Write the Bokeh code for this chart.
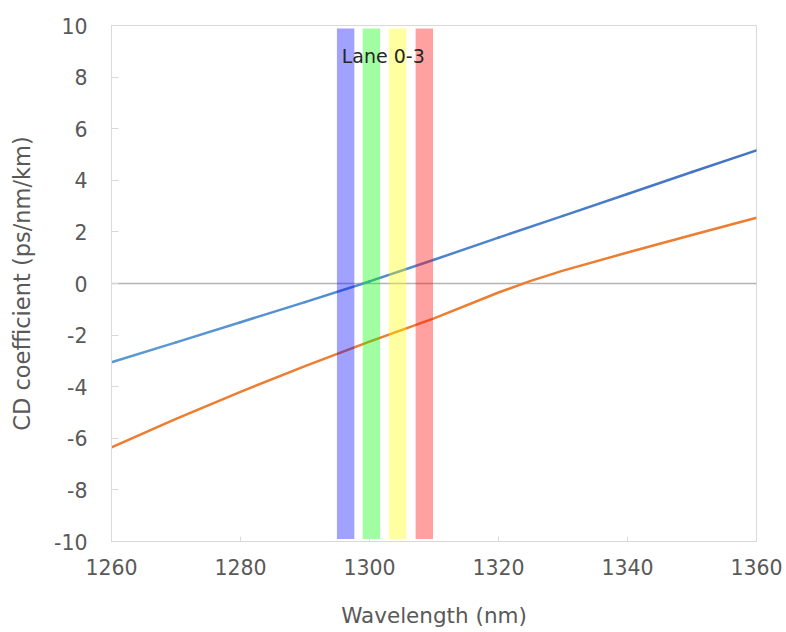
from bokeh.plotting import figure
from bokeh.models import Span, FixedTicker, Label, ColumnDataSource, Range1d
from bokeh.embed import file_html
from bokeh.resources import INLINE

# ---- data ----
wl_blue = [1260, 1270, 1280, 1290, 1300, 1310, 1320, 1330, 1340, 1350, 1360]
cd_blue = [-3.05, -2.28, -1.50, -0.72, 0.08, 0.92, 1.78, 2.62, 3.47, 4.32, 5.16]

wl_orange = [1260, 1270, 1280, 1290, 1300, 1310, 1320, 1325, 1330, 1340, 1350, 1360]
cd_orange = [-6.35, -5.25, -4.20, -3.20, -2.25, -1.35, -0.35, 0.10, 0.50, 1.20, 1.88, 2.55]

lane_names = ["Lane 0", "Lane 1", "Lane 2", "Lane 3"]
lane_center = [1296.3, 1300.3, 1304.35, 1308.5]
lane_half_width = 1.35
lane_top = 9.88
lane_bottom = -9.9
lane_colors = ["#0000ff", "#00ff00", "#ffff00", "#ff0000"]

x_ticks = [1260, 1280, 1300, 1320, 1340, 1360]
y_ticks = [-10, -8, -6, -4, -2, 0, 2, 4, 6, 8, 10]

FONT = "DejaVu Sans"
TXT = "#595959"
GRID = "#d9d9d9"

p = figure(width=786, height=632, output_backend="svg", toolbar_location=None,
           x_range=Range1d(1260, 1360), y_range=Range1d(-10, 10),
           min_border_left=111, min_border_right=30, min_border_top=25, min_border_bottom=91)
p.xgrid.grid_line_color = None
p.ygrid.grid_line_color = None
p.outline_line_color = GRID
p.outline_line_width = 1
p.background_fill_color = "white"
p.border_fill_color = "white"

# zero line
p.add_layout(Span(location=0, dimension="width", line_color="#b4b4b4", line_width=1.3, level="underlay"))

# blue curve with gradient colour (light blue -> darker blue)
def lerp_color(c0, c1, t):
    a = [int(c0[i:i + 2], 16) for i in (1, 3, 5)]
    b = [int(c1[i:i + 2], 16) for i in (1, 3, 5)]
    return "#%02x%02x%02x" % tuple(round(a[k] + (b[k] - a[k]) * t) for k in range(3))

x0 = wl_blue[:-1]
x1 = wl_blue[1:]
y0 = cd_blue[:-1]
y1 = cd_blue[1:]
span_x = wl_blue[-1] - wl_blue[0]
cols = [lerp_color("#5b9bd5", "#4472c4", ((a + b) / 2 - wl_blue[0]) / span_x) for a, b in zip(x0, x1)]
p.segment(x0=x0, y0=y0, x1=x1, y1=y1, line_color=cols, line_width=2.5, line_cap="round")

p.line(wl_orange, cd_orange, line_color="#ed7d31", line_width=2.5, line_join="round")

# lane bands
lane_src = ColumnDataSource(dict(
    left=[c - lane_half_width for c in lane_center],
    right=[c + lane_half_width for c in lane_center],
    top=[lane_top] * len(lane_center),
    bottom=[lane_bottom] * len(lane_center),
    color=lane_colors,
    name=lane_names,
))
p.quad(left="left", right="right", top="top", bottom="bottom", source=lane_src,
       fill_color="color", fill_alpha=0.37, line_color=None)

p.add_layout(Label(x=1295.7, y=8.82, text="Lane 0-3", text_font=FONT, text_font_size="19px",
                   text_color="#262626", text_align="left", text_baseline="alphabetic"))

# axes
for ax in (p.xaxis[0], p.yaxis[0]):
    ax.axis_line_color = GRID
    ax.major_tick_line_color = GRID
    ax.major_tick_out = 0
    ax.minor_tick_line_color = None
    ax.major_label_text_font = FONT
    ax.major_label_text_font_size = "20.5px"
    ax.major_label_text_color = TXT
    ax.axis_label_text_font = FONT
    ax.axis_label_text_color = TXT
    ax.axis_label_text_font_style = "normal"

p.xaxis.ticker = FixedTicker(ticks=x_ticks)
p.yaxis.ticker = FixedTicker(ticks=y_ticks)
p.yaxis.major_label_overrides = {v: str(v) for v in y_ticks}
p.xaxis.major_label_overrides = {v: str(v) for v in x_ticks}
p.xaxis.major_tick_in = 5
p.yaxis.major_tick_in = 7
p.xaxis.axis_label = "Wavelength (nm)"
p.yaxis.axis_label = "CD coefficient (ps/nm/km)"
p.xaxis.axis_label_text_font_size = "21.5px"
p.yaxis.axis_label_text_font_size = "22.5px"
p.xaxis.major_label_standoff = 17
p.xaxis.axis_label_standoff = 25
p.yaxis.major_label_standoff = 24
p.yaxis.axis_label_standoff = 16

open("out.html", "w").write(file_html(p, INLINE))
